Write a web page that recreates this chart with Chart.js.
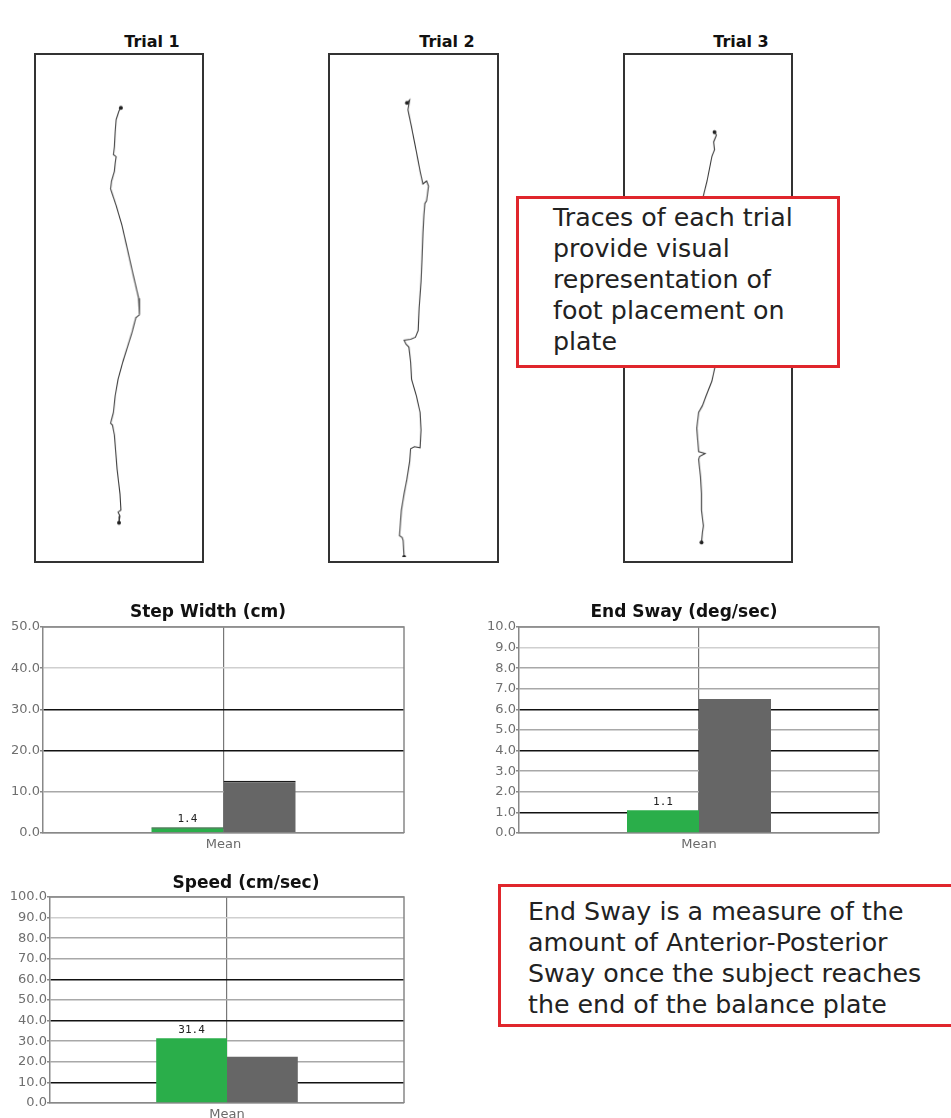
<!DOCTYPE html>
<html>
<head>
<meta charset="utf-8">
<script src="https://cdn.jsdelivr.net/npm/chart.js@4.4.1/dist/chart.umd.min.js"></script>
<style>
body{margin:0;background:#fff;width:951px;height:1118px;overflow:hidden;position:relative;font-family:"DejaVu Sans",Verdana,sans-serif;}
canvas{position:absolute;}
.trace{border:2px solid #333;}
.trial{position:absolute;width:120px;text-align:center;font-weight:bold;font-size:16px;line-height:19px;color:#111;}
.note{position:absolute;background:#fff;border:3px solid #e0262c;box-sizing:border-box;font-size:25.3px;line-height:31px;color:#222;z-index:5;}
</style>
</head>
<body>

<div class="trial" style="left:92px;top:32px">Trial 1</div>
<div class="trial" style="left:387px;top:32px">Trial 2</div>
<div class="trial" style="left:681px;top:32px">Trial 3</div>

<canvas id="t1" class="trace" width="170" height="510" style="left:34px;top:53px"></canvas>
<canvas id="t2" class="trace" width="171" height="510" style="left:328px;top:53px"></canvas>
<canvas id="t3" class="trace" width="170" height="510" style="left:623px;top:53px"></canvas>

<div class="note" style="left:516px;top:196px;width:324px;height:172px;padding:3px 0 0 34px">Traces of each trial<br>provide visual<br>representation of<br>foot placement on<br>plate</div>

<canvas id="stepChart" width="420" height="265" style="left:0;top:595px"></canvas>
<canvas id="swayChart" width="420" height="265" style="left:476px;top:595px"></canvas>
<canvas id="speedChart" width="420" height="250" style="left:0;top:868px"></canvas>

<div class="note" style="left:498px;top:884px;width:470px;height:143px;padding:9px 0 0 27px">End Sway is a measure of the<br>amount of Anterior-Posterior<br>Sway once the subject reaches<br>the end of the balance plate</div>

<script>
// foot traces on the plate: [x across (0-100), y along (0-300)]
const trial1 = [[51.2,270.6],[50.0,268.8],[48.2,263.5],[47.6,255.9],[47.1,247.1],[46.5,242.4],[48.2,241.2],[47.6,237.1],[47.1,232.4],[45.3,226.5],[44.7,221.8],[48.2,211.8],[51.8,200.0],[55.3,185.3],[58.8,170.6],[62.4,155.9],[62.9,145.9],[60.6,144.1],[58.2,135.3],[55.3,126.5],[52.4,117.6],[49.4,107.1],[47.6,97.1],[46.5,87.1],[44.7,80.6],[45.9,79.4],[47.1,73.5],[47.6,67.6],[48.8,52.9],[50.6,38.2],[51.2,28.2],[49.4,27.1],[50.6,24.7],[50.0,20.6]];
const trial2 = [[45.9,273.5],[47.6,275.3],[46.5,269.4],[48.8,258.8],[51.8,244.1],[54.1,232.4],[55.9,224.7],[58.2,226.5],[59.4,223.5],[58.2,214.7],[57.1,212.9],[56.5,205.9],[55.9,195.3],[55.3,179.4],[54.7,165.9],[53.5,150.0],[52.9,136.5],[51.2,132.4],[48.2,131.2],[44.1,130.6],[45.3,128.2],[47.1,126.5],[48.2,117.6],[48.8,107.1],[51.8,97.1],[54.1,87.1],[54.7,76.5],[54.1,65.9],[50.6,66.5],[48.2,65.3],[47.6,57.6],[45.9,47.1],[44.1,38.2],[42.4,28.2],[41.8,20.6],[41.2,12.9],[42.9,11.8],[43.5,10.0],[44.1,0]];
const trial3 = [[54.1,255.9],[55.3,254.1],[53.5,250.0],[54.1,245.3],[52.4,241.2],[51.2,235.3],[49.4,226.5],[47.1,217.6],[45.3,208.8],[47.1,179.4],[50.0,144.1],[54.7,115.9],[52.4,105.9],[48.8,97.1],[46.5,91.2],[44.1,87.1],[42.9,77.6],[43.5,70.6],[44.1,63.5],[48.2,62.4],[44.7,60.6],[44.1,58.8],[45.3,48.2],[45.9,38.2],[45.9,28.2],[47.1,18.8],[46.5,14.7],[45.9,8.8]];

// bar charts
const categories = ['Mean'];
const stepWidthPatient = [1.4];
const stepWidthNormal = [12.7];
const endSwayPatient = [1.1];
const endSwayNormal = [6.5];
const speedPatient = [31.4];
const speedNormal = [22.4];
const stepWidthTicks = [0,10,20,30,40,50];
const endSwayTicks = [0,1,2,3,4,5,6,7,8,9,10];
const speedTicks = [0,10,20,30,40,50,60,70,80,90,100];

// which grid lines come out dark / light in the print
const stepDark = [20,30], stepLight = [40];
const swayDark = [1,4,6], swayLight = [9];
const speedDark = [10,40,60], speedLight = [90];

const framePlugin = {
    id:'frame',
    afterDraw(chart){
        const a = chart.chartArea, ctx = chart.ctx;
        ctx.save();
        ctx.strokeStyle = '#888';
        ctx.lineWidth = 1.5;
        ctx.beginPath();
        ctx.moveTo(a.left, a.top); ctx.lineTo(a.right, a.top); ctx.lineTo(a.right, a.bottom);
        ctx.stroke();
        ctx.restore();
    }
};

const valuePlugin = {
    id:'values',
    afterDatasetsDraw(chart){
        const ctx = chart.ctx;
        const ds = chart.data.datasets[0];
        ctx.save();
        ctx.font = '11px "DejaVu Sans Mono"';
        ctx.fillStyle = '#222';
        ctx.textAlign = 'center';
        ctx.textBaseline = 'bottom';
        chart.getDatasetMeta(0).data.forEach((bar,i) => {
            ctx.fillText(ds.data[i].toFixed(1), bar.x, bar.y - 3);
        });
        ctx.restore();
    }
};

const headingPlugin = {
    id:'heading',
    afterDraw(chart, args, opts){
        const ctx = chart.ctx;
        ctx.save();
        ctx.font = 'bold 17px "DejaVu Sans"';
        ctx.fillStyle = '#111';
        ctx.textAlign = 'center';
        ctx.textBaseline = 'middle';
        ctx.fillText(opts.text, opts.x, opts.y);
        ctx.restore();
    }
};

function makeTrace(id, pts){
    new Chart(document.getElementById(id), {
        type:'scatter',
        data:{datasets:[{
            data: pts.map(p => ({x:p[0], y:p[1]})),
            showLine:true,
            borderColor:'#3a3a3a',
            borderWidth:1.1,
            pointRadius: c => (c.dataIndex === 0 || c.dataIndex === pts.length-1) ? 2 : 0,
            pointBackgroundColor:'#222',
            pointBorderWidth:0
        }]},
        options:{
            responsive:false,
            animation:false,
            layout:{padding:0},
            plugins:{legend:{display:false}, tooltip:{enabled:false}},
            scales:{
                x:{display:false, min:0, max:100},
                y:{display:false, min:0, max:300}
            }
        }
    });
}

function makeBar(id, patient, normal, ticks, dark, light, opt){
    const top = ticks[ticks.length-1];
    const edge = opt.topEdge ? {top:1.5, left:0, right:0, bottom:0} : 0;
    new Chart(document.getElementById(id), {
        type:'bar',
        data:{
            labels: categories,
            datasets:[
                {label:'Patient', data:patient, backgroundColor:'#2aae4a', borderColor:'#1d5a2c', borderWidth:edge, borderSkipped:false, categoryPercentage:0.4, barPercentage:1},
                {label:'Normal', data:normal, backgroundColor:'#666666', borderColor:'#1a1a1a', borderWidth:edge, borderSkipped:false, categoryPercentage:0.4, barPercentage:1}
            ]
        },
        options:{
            responsive:false,
            animation:false,
            layout:{padding:{top:opt.padTop, right:opt.padRight, left:0, bottom:0}},
            plugins:{
                legend:{display:false},
                tooltip:{enabled:false},
                heading:{text:opt.title, x:opt.titleX, y:opt.titleY}
            },
            scales:{
                x:{
                    afterFit: s => { s.height = opt.xHeight; },
                    ticks:{color:'#6a6a6a', font:{family:'DejaVu Sans', size:13}, padding:4},
                    grid:{offset:false, color:'#777', lineWidth:1.2, drawTicks:false},
                    border:{color:'#888', width:1.5}
                },
                y:{
                    min:0, max:top,
                    afterBuildTicks: s => { s.ticks = ticks.map(v => ({value:v})); },
                    afterFit: s => { s.width = opt.yWidth; },
                    ticks:{color:'#6f6f6f', font:{family:'DejaVu Sans', size:13}, padding:0, callback: v => Number(v).toFixed(1)},
                    grid:{
                        color: c => {
                            const v = c.tick ? c.tick.value : 0;
                            if (dark.includes(v)) return '#111';
                            if (light.includes(v)) return '#cfcfcf';
                            return '#a8a8a8';
                        },
                        lineWidth:1.6,
                        tickLength:3,
                        tickColor:'#888'
                    },
                    border:{color:'#888', width:1.5}
                }
            }
        },
        plugins:[framePlugin, valuePlugin, headingPlugin]
    });
}

makeTrace('t1', trial1);
makeTrace('t2', trial2);
makeTrace('t3', trial3);

makeBar('stepChart', stepWidthPatient, stepWidthNormal, stepWidthTicks, stepDark, stepLight,
    {title:'Step Width (cm)', titleX:208, titleY:18, padTop:32, padRight:16, yWidth:43, xHeight:27, topEdge:true});
makeBar('swayChart', endSwayPatient, endSwayNormal, endSwayTicks, swayDark, swayLight,
    {title:'End Sway (deg/sec)', titleX:208, titleY:18, padTop:32, padRight:17, yWidth:43, xHeight:27});
makeBar('speedChart', speedPatient, speedNormal, speedTicks, speedDark, speedLight,
    {title:'Speed (cm/sec)', titleX:246, titleY:16, padTop:29, padRight:16, yWidth:50, xHeight:15});
</script>
</body>
</html>
